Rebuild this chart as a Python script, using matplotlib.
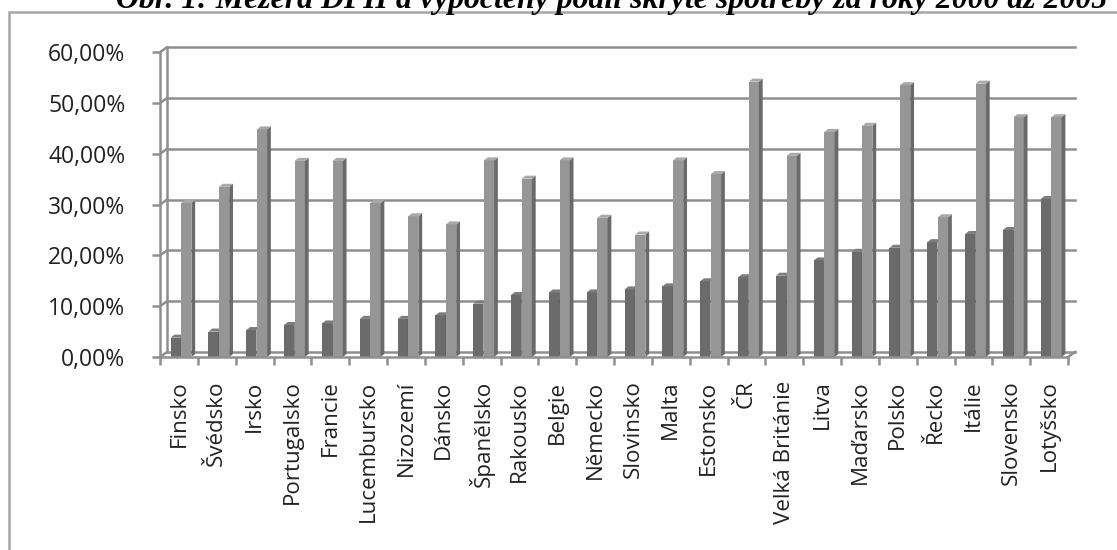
import matplotlib
matplotlib.use("Agg")
import matplotlib.pyplot as plt
from matplotlib.patches import Polygon, Rectangle
from matplotlib.lines import Line2D

# ---- data ----
countries = ["Finsko", "Švédsko", "Irsko", "Portugalsko", "Francie", "Lucembursko",
             "Nizozemí", "Dánsko", "Španělsko", "Rakousko", "Belgie", "Německo",
             "Slovinsko", "Malta", "Estonsko", "ČR", "Velká Británie", "Litva",
             "Maďarsko", "Polsko", "Řecko", "Itálie", "Slovensko", "Lotyšsko"]
vat_gap = [3.8, 5.0, 5.3, 6.3, 6.6, 7.5, 7.5, 8.2, 10.5, 12.2, 12.7, 12.7,
           13.3, 13.9, 14.9, 15.7, 16.0, 19.0, 20.7, 21.5, 22.6, 24.2, 25.0, 31.1]
hidden_share = [30.3, 33.5, 44.8, 38.6, 38.6, 30.3, 27.7, 26.1, 38.7, 35.1, 38.7, 27.4,
                24.1, 38.7, 36.0, 54.2, 39.6, 44.3, 45.5, 53.5, 27.5, 53.8, 47.2, 47.2]
yticks = [0, 10, 20, 30, 40, 50, 60]
title = "Obr. 1: Mezera DPH a vypočtený podíl skryté spotřeby za roky 2000 až 2005"

n = len(countries)
W, H = 1117, 550
fig = plt.figure(figsize=(W / 100, H / 100), dpi=100)
fig.patch.set_facecolor("white")

# chart frame (extends beyond the right/bottom edges)
fig.add_artist(Rectangle((9 / W, -0.1), 1.2, 1.1 - 12 / H, transform=fig.transFigure,
                         fill=False, edgecolor="#a6a6a6", linewidth=1.8))

# geometry in data units
DX, DY = 0.19, 1.0          # back wall offset
bx, by = 0.1, 0.6            # bar depth offset
x0 = -0.5
x1 = n - 0.5

ppu = (1068 - 160) / n       # pixels per category
xmax = x1 + DX + 0.08
left_px, right_px = 160, 160 + (xmax - x0) * ppu
bot_px = 357
top_val = 60 + DY + 0.3
top_px = bot_px - top_val * 5.08
ax = fig.add_axes([left_px / W, (H - bot_px) / H, (right_px - left_px) / W, (bot_px - top_px) / H])
ax.set_xlim(x0, xmax)
ax.set_ylim(0, top_val)
ax.set_facecolor("none")

grid_c = "#8f8f8f"
lw = 1.8
# back wall grid lines + connectors
for v in yticks:
    ax.add_line(Line2D([x0 + DX, x1 + DX], [v + DY, v + DY], color=grid_c, lw=lw, zorder=1))
    ax.add_line(Line2D([x0, x0 + DX], [v, v + DY], color=grid_c, lw=lw, zorder=1))
ax.add_line(Line2D([x0 + DX, x0 + DX], [DY, 60 + DY], color=grid_c, lw=lw, zorder=1))
ax.add_line(Line2D([x1, x1 + DX], [0, DY], color=grid_c, lw=lw, zorder=1))

# bars
xs = list(range(n))
dark_front, dark_side, dark_top = "#6b6b6b", "#555555", "#7d7d7d"
light_front, light_side, light_top = "#969696", "#6a6a6a", "#a9a9a9"
wb = 0.27
dark_x = [x - 0.22 + wb / 2 for x in xs]
light_x = [x + 0.06 + wb / 2 for x in xs]


def draw_series(centers, vals, fc, sc, tc, z):
    ax.bar(centers, vals, width=wb, color=fc, edgecolor="none", zorder=z)
    for c, v in zip(centers, vals):
        r = c + wb / 2
        l = c - wb / 2
        ax.add_patch(Polygon([(r, 0), (r + bx, by), (r + bx, v + by), (r, v)],
                             closed=True, facecolor=sc, edgecolor="none", zorder=z))
        ax.add_patch(Polygon([(l, v), (r, v), (r + bx, v + by), (l + bx, v + by)],
                             closed=True, facecolor=tc, edgecolor="none", zorder=z))


draw_series(dark_x, vat_gap, dark_front, dark_side, dark_top, 3)
draw_series(light_x, hidden_share, light_front, light_side, light_top, 4)

# axes spines
for s in ["top", "right"]:
    ax.spines[s].set_visible(False)
ax.spines["left"].set_bounds(0, 60)
ax.spines["bottom"].set_bounds(x0, x1)
for s in ["left", "bottom"]:
    ax.spines[s].set_color(grid_c)
    ax.spines[s].set_linewidth(lw)
    ax.spines[s].set_zorder(5)

ax.set_yticks(yticks)
ax.set_yticklabels([f"{v:.2f}".replace(".", ",") + "%" for v in yticks])
ax.set_xticks([i - 0.5 for i in range(n + 1)])
ax.set_xticklabels([])
ax.set_xticks(xs, minor=True)
ax.set_xticklabels(countries, minor=True, rotation=90, va="top", ha="center")
ax.tick_params(axis="x", which="major", length=6, width=lw, color=grid_c, direction="out")
ax.tick_params(axis="x", which="minor", length=0, pad=17, labelsize=13, labelcolor="#222222")
ax.tick_params(axis="y", length=6, width=lw, color=grid_c, pad=19, labelsize=13.5, labelcolor="#222222")
for lab in ax.get_xticklabels(minor=True) + ax.get_yticklabels():
    lab.set_fontfamily("Open Sans")

# title, mostly cut off at top of the image (as in the reference)
t = fig.text(0.5 * (117 + 1106) / W, 1 - 8 / H, title, ha="center", va="baseline",
             fontfamily="Liberation Serif", fontweight="bold", fontstyle="italic", fontsize=20)

# fit font sizes to the reference's measured text extents
fig.canvas.draw()
r = fig.canvas.get_renderer()
ext = t.get_window_extent(r)
t.set_fontsize(20 * 989 / ext.width)
xl = ax.get_xticklabels(minor=True)[3]          # "Portugalsko"
xs_new = 13 * 123 / xl.get_window_extent(r).height
yl = ax.get_yticklabels()[-1]                   # "60,00%"
ys_new = 13.5 * 77 / yl.get_window_extent(r).width
ax.tick_params(axis="x", which="minor", labelsize=xs_new)
ax.tick_params(axis="y", labelsize=ys_new)

fig.savefig("out.png", dpi=100, facecolor="white")
